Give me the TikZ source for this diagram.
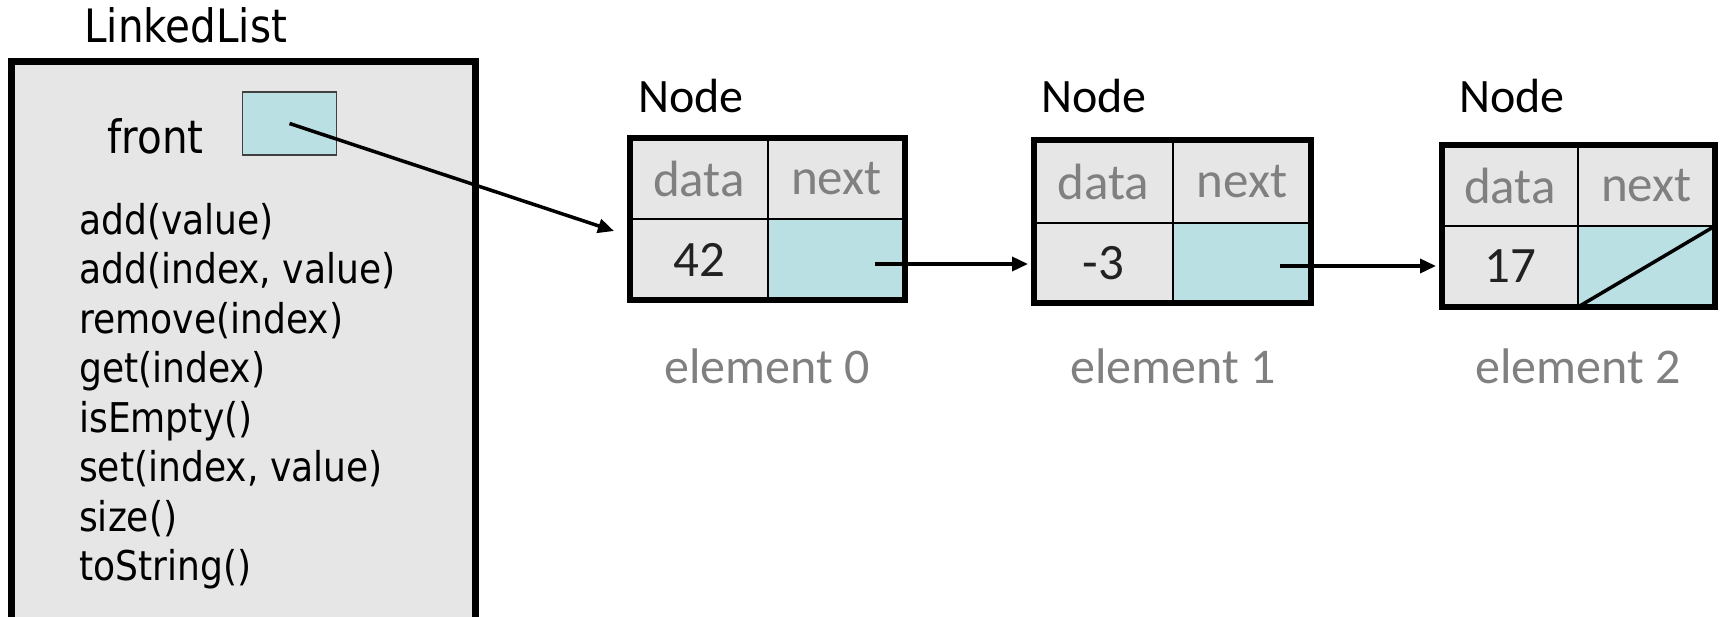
\documentclass[tikz,border=0pt]{standalone}
\usepackage{fontspec}
\usetikzlibrary{arrows.meta}
\newfontfamily\tahfont[FakeStretch=0.88]{DejaVu Sans}
\newfontfamily\calfont{Carlito}
\definecolor{boxgray}{HTML}{E6E6E6}
\definecolor{ptrteal}{HTML}{BAE0E3}
\definecolor{labgray}{HTML}{808080}
\definecolor{valblack}{HTML}{222222}
\begin{document}
\begin{tikzpicture}[x=1pt,y=-1pt,
  cell/.style={draw=black, line width=2.5pt, fill=boxgray, inner sep=0pt, outer sep=0pt},
  hdr/.style={cell, text=labgray, font=\calfont\fontsize{51}{60}\selectfont},
  val/.style={cell, text=valblack, font=\calfont\fontsize{51}{60}\selectfont},
  ptrcell/.style={cell, fill=ptrteal},
  frame/.style={draw=black, line width=6pt, inner sep=0pt},
  nodelabel/.style={anchor=base west, inner sep=0pt, font=\calfont\fontsize{48}{56}\selectfont},
  elemlabel/.style={anchor=base, inner sep=0pt, text=labgray, font=\calfont\fontsize{50}{60}\selectfont},
  method/.style={anchor=base west, inner sep=0pt, font=\tahfont\fontsize{41}{49}\selectfont},
  link/.style={line width=3.5pt, -{Triangle[length=16pt,width=14pt]}}]
\useasboundingbox (0,0) rectangle (1722,617);

% LinkedList object
\node[draw=black, line width=7pt, fill=boxgray, anchor=north west, outer sep=0pt, inner sep=0pt,
      minimum width=464pt, minimum height=640pt] (ll) at (11,62) {};
\node[anchor=base west, inner sep=0pt, font=\tahfont\fontsize{46}{55}\selectfont] (lltitle) at (84,43) {LinkedList};
\node[anchor=base west, inner sep=0pt, font=\tahfont\fontsize{46}{55}\selectfont] (frontlab) at (107,154) {front};
\node[draw=black!75, line width=1.5pt, fill=ptrteal, inner sep=0pt, minimum width=94pt, minimum height=63pt] (fbox) at (289.5,123.5) {};
\node[method] (m1) at (79,235) {add(value)};
\node[method] (m2) at (79,284) {add(index, value)};
\node[method] (m3) at (79,334) {remove(index)};
\node[method] (m4) at (79,383) {get(index)};
\node[method] (m5) at (79,432) {isEmpty()};
\node[method] (m6) at (79,482) {set(index, value)};
\node[method] (m7) at (79,531) {size()};
\node[method] (m8) at (79,580) {toString()};

% Node 0
\node[hdr, minimum width=138pt, minimum height=81pt] (n0d) at (699,178.5) {data};
\node[hdr, minimum width=137pt, minimum height=81pt] (n0n) at (836.5,178.5) {next};
\node[val, minimum width=138pt, minimum height=81pt] (n0v) at (699,259.5) {42};
\node[ptrcell, minimum width=137pt, minimum height=81pt] (n0p) at (836.5,259.5) {};
\node[frame, minimum width=275pt, minimum height=162pt] (n0) at (767.5,219) {};
\node[nodelabel] (n0lab) at (638,113) {Node};
\node[elemlabel] (e0) at (767,384) {element 0};

% Node 1
\node[hdr, minimum width=139pt, minimum height=83pt] (n1d) at (1103.5,181.5) {data};
\node[hdr, minimum width=138pt, minimum height=83pt] (n1n) at (1242,181.5) {next};
\node[val, minimum width=139pt, minimum height=80pt] (n1v) at (1103.5,263) {-3};
\node[ptrcell, minimum width=138pt, minimum height=80pt] (n1p) at (1242,263) {};
\node[frame, minimum width=277pt, minimum height=163pt] (n1) at (1172.5,221.5) {};
\node[nodelabel] (n1lab) at (1041,113) {Node};
\node[elemlabel] (e1) at (1173,384) {element 1};

% Node 2
\node[hdr, minimum width=136pt, minimum height=81pt] (n2d) at (1510,185.5) {data};
\node[hdr, minimum width=137pt, minimum height=81pt] (n2n) at (1646.5,185.5) {next};
\node[val, minimum width=136pt, minimum height=81pt] (n2v) at (1510,266.5) {17};
\node[ptrcell, minimum width=137pt, minimum height=81pt] (n2p) at (1646.5,266.5) {};
\draw[line width=3.5pt] (n2p.south west) -- (n2p.north east);
\node[frame, minimum width=273pt, minimum height=162pt] (n2) at (1578.5,226) {};
\node[nodelabel] (n2lab) at (1459,113) {Node};
\node[elemlabel] (e2) at (1578,384) {element 2};

% Links
\coordinate (t0) at (614,231);
\draw[link] (fbox.center) -- (t0);
\coordinate (s0) at (875,264);
\draw[link, shorten >=3pt] (s0) -- (n1.west |- s0);
\coordinate (s1) at (1280,266);
\draw[link, shorten >=3pt] (s1) -- (n2.west |- s1);
\end{tikzpicture}
\end{document}
